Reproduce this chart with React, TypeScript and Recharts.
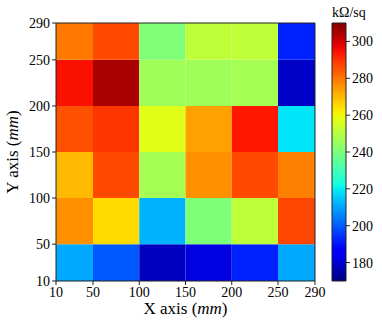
import React from 'react';
import { ComposedChart, XAxis, YAxis, ReferenceArea, ReferenceLine } from 'recharts';

// Grid edges (mm)
const xEdges = [10, 50, 100, 150, 200, 250, 290];
const yEdges = [10, 50, 100, 150, 200, 250, 290];
const xTicks = [10, 50, 100, 150, 200, 250, 290];
const yTicks = [10, 50, 100, 150, 200, 250, 290];
const cbTicks = [180, 200, 220, 240, 260, 280, 300];
const vMin = 170;
const vMax = 310;

// Sheet resistance (kΩ/sq), rows from bottom (y 10-50) to top (y 250-290)
const row10to50 = [210.6, 199.6, 177.7, 181.6, 192, 210.6];
const row50to100 = [276, 265, 212, 240.5, 251.5, 287];
const row100to150 = [270, 286.5, 247, 276, 286.5, 278.5];
const row150to200 = [285.5, 289.5, 257, 273.6, 294, 219];
const row200to250 = [295, 305, 246, 246, 247, 178.6];
const row250to290 = [279.5, 286.5, 240.6, 251.5, 251.5, 192];
const rows = [row10to50, row50to100, row100to150, row150to200, row200to250, row250to290];

const FONT = 'Liberation Serif, DejaVu Serif, serif';

const redSeg = [[0, 0], [0.35, 0], [0.66, 1], [0.89, 1], [1, 0.5]];
const greenSeg = [[0, 0], [0.125, 0], [0.375, 1], [0.64, 1], [0.91, 0], [1, 0]];
const blueSeg = [[0, 0.5], [0.11, 1], [0.34, 1], [0.65, 0], [1, 0]];

function interp(seg: number[][], t: number) {
  for (let i = 1; i < seg.length; i++) {
    if (t <= seg[i][0]) {
      const [x0, y0] = seg[i - 1];
      const [x1, y1] = seg[i];
      return y0 + ((t - x0) / (x1 - x0)) * (y1 - y0);
    }
  }
  return seg[seg.length - 1][1];
}

function jet(t: number) {
  const c = Math.max(0, Math.min(1, t));
  const h = (v: number) => Math.round(v * 255).toString(16).padStart(2, '0');
  return '#' + h(interp(redSeg, c)) + h(interp(greenSeg, c)) + h(interp(blueSeg, c));
}

const colorOf = (v: number) => jet((v - vMin) / (vMax - vMin));

const gradientStops = Array.from({ length: 41 }, (_, i) => i / 40);

const tickStyle = { fontFamily: FONT, fontSize: 14, fill: '#000' };

const XLabel = (props: any) => {
  const vb = props.viewBox || {};
  return (
    <text x={vb.x + vb.width / 2} y={vb.y + 33} textAnchor="middle" fontFamily={FONT} fontSize={17} fill="#000">
      X axis (<tspan fontStyle="italic">mm</tspan>)
    </text>
  );
};

const YLabel = (props: any) => {
  const vb = props.viewBox || {};
  const cx = 18;
  const cy = vb.y + vb.height / 2;
  return (
    <text x={cx} y={cy} transform={`rotate(-90, ${cx}, ${cy})`} textAnchor="middle" fontFamily={FONT} fontSize={17} fill="#000">
      Y axis (<tspan fontStyle="italic">mm</tspan>)
    </text>
  );
};

const CbTitle = (props: any) => {
  const vb = props.viewBox || {};
  return (
    <text x={vb.x - 14} y={vb.y - 6} textAnchor="start" fontFamily={FONT} fontSize={14} fill="#000">
      kΩ/sq
    </text>
  );
};

export default function App() {
  const cells: { x1: number; x2: number; y1: number; y2: number; v: number }[] = [];
  rows.forEach((row, r) => {
    row.forEach((v, c) => {
      cells.push({ x1: xEdges[c], x2: xEdges[c + 1], y1: yEdges[r], y2: yEdges[r + 1], v });
    });
  });

  return (
    <div style={{ position: 'absolute', left: 0, top: 0, width: 382, height: 327, background: '#fff' }}>
      <div style={{ position: 'absolute', left: 0, top: 0 }}>
        <ComposedChart width={330} height={327} margin={{ top: 23, right: 15, bottom: 16, left: 16 }}>
          <XAxis
            type="number"
            dataKey="x"
            domain={[10, 290]}
            ticks={xTicks}
            interval={0}
            allowDataOverflow
            height={30}
            tick={tickStyle}
            tickSize={4}
            stroke="#222"
            tickLine={{ stroke: '#222' }}
            label={<XLabel />}
          />
          <YAxis
            type="number"
            dataKey="y"
            domain={[10, 290]}
            ticks={yTicks}
            interval={0}
            allowDataOverflow
            width={40}
            tick={tickStyle}
            tickSize={4}
            stroke="#222"
            tickLine={{ stroke: '#222' }}
            label={<YLabel />}
          />
          {cells.map((c, i) => (
            <ReferenceArea
              key={i}
              x1={c.x1}
              x2={c.x2}
              y1={c.y1}
              y2={c.y2}
              fill={colorOf(c.v)}
              fillOpacity={1}
              stroke="none"
              ifOverflow="visible"
            />
          ))}
          <ReferenceLine y={290} stroke="#222" ifOverflow="visible" />
          <ReferenceLine x={290} stroke="#222" ifOverflow="visible" />
        </ComposedChart>
      </div>
      <div style={{ position: 'absolute', left: 320, top: 0 }}>
        <ComposedChart width={62} height={327} margin={{ top: 23, right: 0, bottom: 46, left: 12 }}>
          <defs>
            <linearGradient id="jetGrad" x1="0" y1="1" x2="0" y2="0">
              {gradientStops.map((t) => (
                <stop key={t} offset={`${t * 100}%`} stopColor={jet(t)} />
              ))}
            </linearGradient>
          </defs>
          <XAxis type="number" dataKey="x" domain={[0, 1]} hide allowDataOverflow />
          <YAxis
            type="number"
            dataKey="v"
            orientation="right"
            domain={[vMin, vMax]}
            ticks={cbTicks}
            interval={0}
            allowDataOverflow
            width={36}
            tick={tickStyle}
            tickSize={4}
            axisLine={false}
            tickLine={{ stroke: '#222' }}
            label={<CbTitle />}
          />
          <ReferenceArea x1={0} x2={1} y1={vMin} y2={vMax} fill="url(#jetGrad)" fillOpacity={1} stroke="#222" strokeWidth={1} ifOverflow="visible" />
        </ComposedChart>
      </div>
    </div>
  );
}
